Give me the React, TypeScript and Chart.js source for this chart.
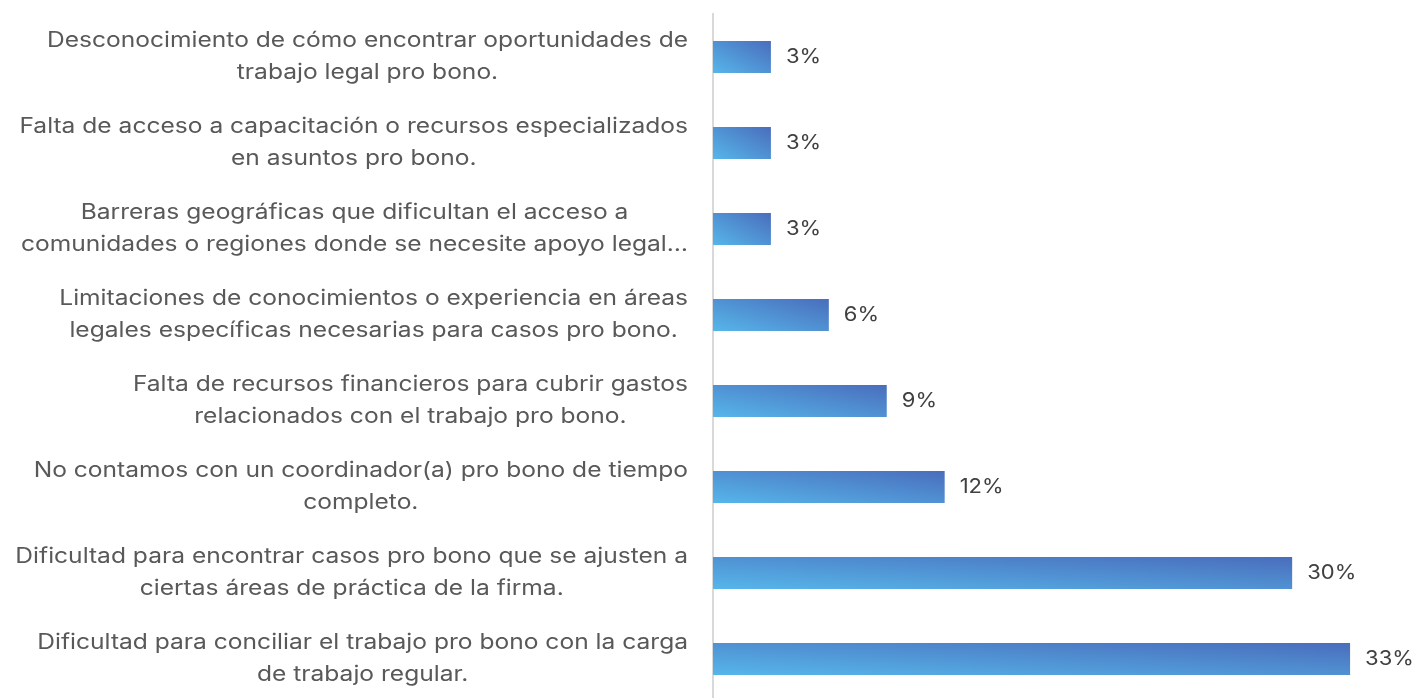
import React, { useEffect, useRef } from "react";
import { Chart, registerables } from "chart.js";

Chart.register(...registerables);

// ---- Data ----
const categories: string[][] = [
  ["Desconocimiento de cómo encontrar oportunidades de", "trabajo legal pro bono."],
  ["Falta de acceso a capacitación o recursos especializados", "en asuntos pro bono."],
  ["Barreras geográficas que dificultan el acceso a", "comunidades o regiones donde se necesite apoyo legal…"],
  ["Limitaciones de conocimientos o experiencia en áreas", "legales específicas necesarias para casos pro bono."],
  ["Falta de recursos financieros para cubrir gastos", "relacionados con el trabajo pro bono."],
  ["No contamos con un coordinador(a) pro bono de tiempo", "completo."],
  ["Dificultad para encontrar casos pro bono que se ajusten a", "ciertas áreas de práctica de la firma."],
  ["Dificultad para conciliar el trabajo pro bono con la carga", "de trabajo regular."],
];
const values: number[] = [3.03, 3.03, 3.03, 6.06, 9.09, 12.12, 30.3, 33.33];
const valueLabels: string[] = ["3%", "3%", "3%", "6%", "9%", "12%", "30%", "33%"];
const axisMin = 0;
const axisMax = 35;

// ---- Styles ----
const FONT_FAMILY = "Inter, 'Noto Sans', sans-serif";
const LABEL_SIZE = 21;
const LABEL_STRETCH = 1.17;
const VALUE_SIZE = 20;
const VALUE_STRETCH = 1.1;
const LABEL_COLOR = "#595959";
const VALUE_COLOR = "#404040";
const LIGHT = "#56B6EA";
const DARK = "#4A6DBC";
const BAR_FRAC = 0.372;
const LINE_H = 32;

const categoryLabelPlugin = {
  id: "categoryLabels",
  afterDraw(chart: any) {
    const ys = chart.scales.y;
    const ctx = chart.ctx;
    ctx.save();
    ctx.font = `${LABEL_SIZE}px ${FONT_FAMILY}`;
    ctx.fillStyle = LABEL_COLOR;
    ctx.textBaseline = "middle";
    ctx.textAlign = "center";
    const rightEdge = ys.right - 25;
    categories.forEach((lines, i) => {
      const yc = ys.getPixelForValue(i);
      const widths = lines.map((l) => ctx.measureText(l).width * LABEL_STRETCH);
      const maxW = Math.max(...widths);
      const cx = rightEdge - maxW / 2;
      lines.forEach((line, j) => {
        const y = yc + (j - (lines.length - 1) / 2) * LINE_H;
        ctx.save();
        ctx.translate(cx, y);
        ctx.scale(LABEL_STRETCH, 1);
        ctx.fillText(line, 0, 0);
        ctx.restore();
      });
    });
    ctx.restore();
  },
};

const valueLabelPlugin = {
  id: "valueLabels",
  afterDatasetsDraw(chart: any) {
    const meta = chart.getDatasetMeta(0);
    const ctx = chart.ctx;
    ctx.save();
    ctx.font = `${VALUE_SIZE}px ${FONT_FAMILY}`;
    ctx.fillStyle = VALUE_COLOR;
    ctx.textBaseline = "middle";
    ctx.textAlign = "left";
    meta.data.forEach((el: any, i: number) => {
      ctx.save();
      ctx.translate(el.x + 15, el.y);
      ctx.scale(VALUE_STRETCH, 1);
      ctx.fillText(valueLabels[i], 0, 0);
      ctx.restore();
    });
    ctx.restore();
  },
};

export default function App() {
  const ref = useRef<HTMLCanvasElement | null>(null);

  useEffect(() => {
    document.body.style.margin = "0";
    document.body.style.overflow = "hidden";
    if (!ref.current) return;
    const chart = new Chart(ref.current, {
      type: "bar",
      data: {
        labels: categories.map((c) => c.join(" ")),
        datasets: [
          {
            data: values,
            barPercentage: BAR_FRAC,
            categoryPercentage: 1,
            borderWidth: 0,
            backgroundColor: (c: any) => {
              const chart = c.chart;
              if (!chart.chartArea || c.type !== "data") return LIGHT;
              const xs = chart.scales.x;
              const ys = chart.scales.y;
              const x0 = xs.getPixelForValue(0);
              const x1 = xs.getPixelForValue(c.raw);
              const yc = ys.getPixelForValue(c.dataIndex);
              const h = (ys.height / categories.length) * BAR_FRAC;
              const w = Math.max(1, x1 - x0);
              const yb = yc + h / 2;
              const L2 = w * w + h * h;
              const g = chart.ctx.createLinearGradient(
                x0,
                yb,
                x0 + (2 * w * h * h) / L2,
                yb - (2 * w * w * h) / L2
              );
              g.addColorStop(0, LIGHT);
              g.addColorStop(1, DARK);
              return g;
            },
          },
        ],
      },
      options: {
        indexAxis: "y",
        animation: false,
        responsive: true,
        maintainAspectRatio: false,
        layout: { padding: { top: 14, bottom: 2, left: 0, right: 33 } },
        plugins: {
          legend: { display: false },
          tooltip: { enabled: false },
        },
        scales: {
          x: {
            display: false,
            min: axisMin,
            max: axisMax,
          },
          y: {
            type: "category",
            grid: { display: false },
            ticks: { display: false },
            border: { display: true, color: "#D9D9D9", width: 2 },
            afterFit: (s: any) => {
              s.width = 713;
            },
          },
        },
      },
      plugins: [categoryLabelPlugin, valueLabelPlugin],
    });
    return () => chart.destroy();
  }, []);

  return (
    <div style={{ position: "relative", width: "1415px", height: "704px" }}>
      <canvas ref={ref} />
    </div>
  );
}
